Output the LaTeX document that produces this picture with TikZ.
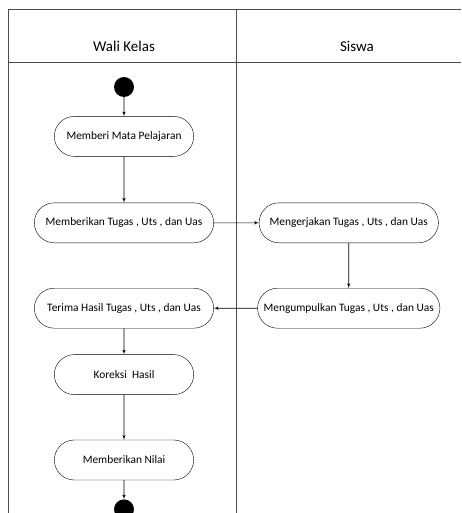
\documentclass[tikz,border=0pt]{standalone}
\usepackage{fontspec}
\setmainfont{Carlito}
\usepackage{tikz}
\usetikzlibrary{arrows, positioning, shapes}

\begin{document}
\begin{tikzpicture}[x=1pt, y=-1pt,
	act/.style={draw, rounded rectangle, minimum height=40pt, font=\fontsize{11.4}{13}\selectfont},
	dot/.style={circle, fill=black, minimum size=20pt, inner sep=0pt},
	lane/.style={draw=black!70, line width=0.9pt},
	flow/.style={draw, -latex', line width=0.6pt}]

\useasboundingbox (0,0) rectangle (461,513);
\clip (0,0) rectangle (461,513);

% swimlanes
\path [lane] (461,9) -- (8,9) -- (8,513);
\path [lane] (8,62) -- (461,62);
\path [lane] (236,9) -- (236,513);
\node [font=\fontsize{15}{18}\selectfont] (wali) at (124,46) {Wali Kelas};
\node [font=\fontsize{15}{18}\selectfont] (siswa) at (357,46) {Siswa};

\node [dot] (start) at (124,87) {};

\node [act, minimum width=146pt, below=19pt of start] (mapel) {Memberi Mata Pelajaran};

\node [act, minimum width=186pt, below=46pt of mapel] (beri) {Memberikan Tugas , Uts , dan Uas};

\node [act, minimum width=186pt, right=45pt of beri] (kerja) {Mengerjakan Tugas , Uts , dan Uas};

\node [act, minimum width=189pt, below=45pt of kerja] (kumpul) {Mengumpulkan Tugas , Uts , dan Uas};

\node [act, minimum width=186pt, below=45pt of beri] (terima) {Terima Hasil Tugas , Uts , dan Uas};

\node [act, minimum width=146pt, below=26pt of terima] (koreksi) {Koreksi~~Hasil};

\node [act, minimum width=146pt, below=45pt of koreksi] (nilai) {Memberikan Nilai};

\node [dot, below=19pt of nilai] (end) {};

\path [flow] (start)   edge (mapel);
\path [flow] (mapel)   edge (beri);
\path [flow] (beri)    edge (kerja);
\path [flow] (kerja)   edge (kumpul);
\path [flow] (kumpul)  edge (terima);
\path [flow] (terima)  edge (koreksi);
\path [flow] (koreksi) edge (nilai);
\path [flow] (nilai)   edge (end);

\end{tikzpicture}
\end{document}
